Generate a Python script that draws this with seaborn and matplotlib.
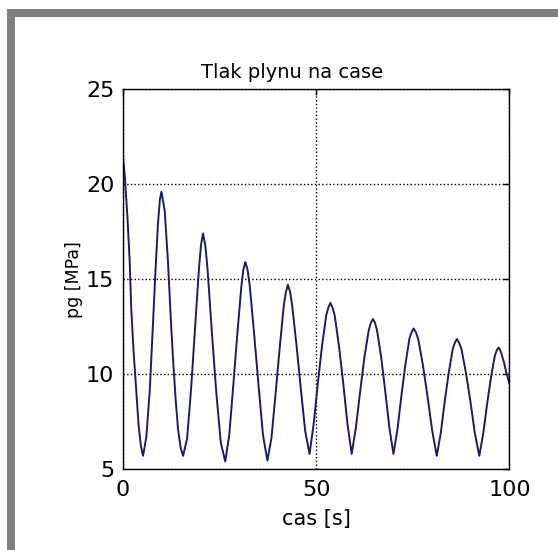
import numpy as np
import pandas as pd
import matplotlib
matplotlib.use('Agg')
import matplotlib.pyplot as plt
from matplotlib.patches import Rectangle
import seaborn as sns

# values (time in s, pressure in MPa)
cas = [0.0, 0.5, 1.2, 1.8, 2.2, 2.8, 3.5, 4.1, 4.7, 5.25,
       6.1, 7.0, 7.8, 8.5, 9.1, 9.6, 10.0,
       10.85, 11.7, 12.4, 13.0, 13.7, 14.3, 15.0, 15.6,
       16.63, 17.66, 18.69, 19.72, 20.24, 20.75,
       21.33, 21.9, 23.05, 24.2, 25.35, 26.5,
       27.54, 28.58, 29.62, 30.66, 31.18, 31.7,
       32.27, 32.84, 33.98, 35.12, 36.26, 37.4,
       38.46, 39.52, 40.58, 41.64, 42.17, 42.7,
       43.26, 43.82, 44.94, 46.06, 47.18, 48.3,
       49.38, 50.46, 51.54, 52.62, 53.16, 53.7,
       54.25, 54.8, 55.9, 57.0, 58.1, 59.2,
       60.3, 61.4, 62.5, 63.6, 64.15, 64.7,
       65.23, 65.76, 66.82, 67.88, 68.94, 70.0,
       71.04, 72.08, 73.12, 74.16, 74.68, 75.2,
       75.8, 76.4, 77.6, 78.8, 80.0, 81.2,
       82.24, 83.28, 84.32, 85.36, 85.88, 86.4,
       86.98, 87.56, 88.72, 89.88, 91.04, 92.2,
       93.2, 94.2, 95.2, 96.2, 96.7, 97.2,
       97.75, 98.6, 99.3, 100.0]
pg = [21.6, 20.5, 18.3, 15.9, 13.4, 11.2, 9.1, 7.3, 6.2, 5.7,
      6.7, 9.2, 12.6, 15.6, 17.9, 19.2, 19.6,
      18.6, 15.9, 13.0, 10.8, 8.6, 7.1, 6.1, 5.7,
      6.6, 9.2, 12.4, 15.6, 16.8, 17.4,
      16.8, 15.6, 12.2, 9.0, 6.4, 5.4,
      6.8, 9.4, 12.1, 14.6, 15.5, 15.9,
      15.5, 14.65, 12.1, 9.4, 6.8, 5.45,
      6.65, 8.97, 11.37, 13.6, 14.3, 14.7,
      14.35, 13.6, 11.5, 9.2, 7.0, 5.8,
      7.4, 9.55, 11.5, 13.1, 13.5, 13.75,
      13.5, 13.1, 11.5, 9.55, 7.4, 5.8,
      7.2, 9.1, 10.9, 12.3, 12.7, 12.9,
      12.7, 12.3, 10.9, 9.1, 7.2, 5.8,
      7.1, 8.9, 10.55, 11.9, 12.2, 12.4,
      12.2, 11.85, 10.5, 8.85, 7.05, 5.7,
      6.9, 8.6, 10.1, 11.35, 11.65, 11.85,
      11.65, 11.35, 10.1, 8.6, 6.9, 5.7,
      6.85, 8.4, 9.8, 10.95, 11.25, 11.4,
      11.2, 10.6, 10.0, 9.5]

x_ticks = [0, 50, 100]
y_ticks = [5, 10, 15, 20, 25]

df = pd.DataFrame({'cas': cas, 'pg': pg})

sns.set_style('white')
plt.rcParams['font.family'] = ['DejaVu Sans']
plt.rcParams['text.color'] = 'black'
plt.rcParams['axes.labelcolor'] = 'black'

fig = plt.figure(figsize=(5.58, 5.50), dpi=100)
ax = fig.add_axes([0.22, 0.147, 0.693, 0.691])

sns.lineplot(data=df, x='cas', y='pg', ax=ax, color='#1b1b6b', linewidth=1.4,
             sort=False, estimator=None)

ax.set_xlim(0, 100)
ax.set_ylim(5, 25)
ax.set_xticks(x_ticks)
ax.set_yticks(y_ticks)
ax.grid(True, linestyle=':', color='black', linewidth=1.0)
ax.tick_params(direction='in', length=4, width=1, colors='black',
               top=True, right=True, labelsize=16)
ax.tick_params(axis='y', pad=6)
ax.tick_params(axis='x', pad=8)
for s in ax.spines.values():
    s.set_color('black')
    s.set_linewidth(1.0)
    s.set_visible(True)

ax.set_title('Tlak plynu na case', fontsize=14, x=0.438, pad=8, color='black')
ax.set_xlabel('cas [s]', fontsize=15, labelpad=6, color='black')
ax.set_ylabel('pg [MPa]', fontsize=12.5, labelpad=2, color='black')

# gray window frame (top and left bands)
fig.patches.append(Rectangle((0.0125, 0.0), 0.0144, 0.9836, transform=fig.transFigure,
                             facecolor='#808080', edgecolor='none', zorder=0))
fig.patches.append(Rectangle((0.0125, 0.969), 0.9875, 0.0146, transform=fig.transFigure,
                             facecolor='#808080', edgecolor='none', zorder=0))

fig.savefig('out.png', dpi=100)
